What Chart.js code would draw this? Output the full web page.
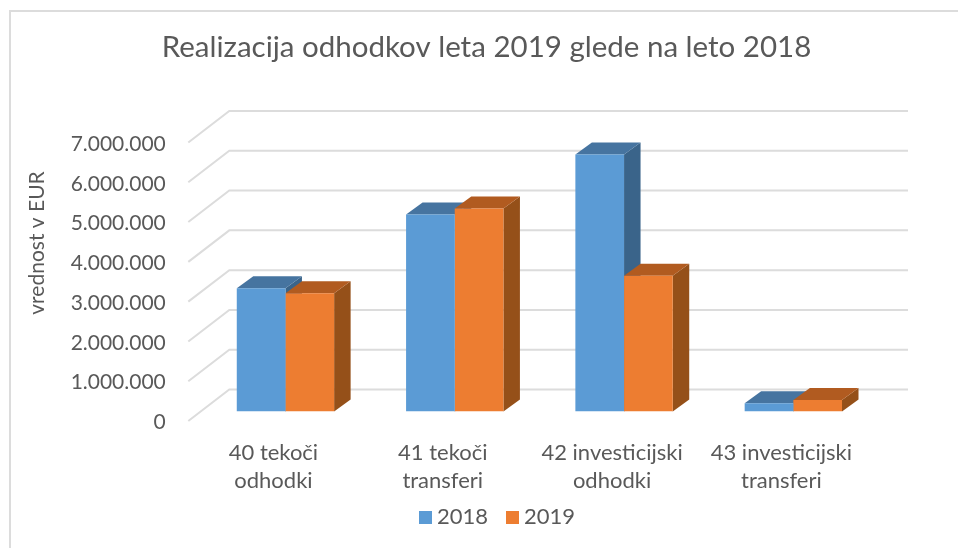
<!DOCTYPE html>
<html>
  <head>
    <meta charset="utf-8">
    <script src="https://cdn.jsdelivr.net/npm/chart.js@4"></script>
    <style>
      body { margin: 0; background: #fff; }
      #frame { position: absolute; left: 9px; top: 10px; width: 949px; height: 538px; border-left: 2px solid #dcdcdc; border-top: 2px solid #dcdcdc; box-sizing: border-box; }
      canvas { position: absolute; left: 0; top: 0; }
    </style>
  </head>
  <body>
    <div id="frame"></div>
    <canvas id="myChart" width="958" height="548"></canvas>

    <script>
      var categories = [['40 tekoči', 'odhodki'], ['41 tekoči', 'transferi'], ['42 investicijski', 'odhodki'], ['43 investicijski', 'transferi']]
      var values2018 = [3095000, 4950000, 6460000, 205000]
      var values2019 = [2970000, 5100000, 3410000, 290000]
      var yTickLabels = ['0', '1.000.000', '2.000.000', '3.000.000', '4.000.000', '5.000.000', '6.000.000', '7.000.000']
      var chartTitle = 'Realizacija odhodkov leta 2019 glede na leto 2018'
      var yAxisTitle = 'vrednost v EUR'

      var textColor = '#595959'
      var fontFamily = 'Lato'
      var gridColor = '#dcdcdc'
      var depthX = 16.5, depthY = 12   // bar depth in the fake 3D
      var wallBack = 22, wallFront = 9.5  // how far the walls sit above/below the bar plane
      var wallLeft = 12.5, wallRight = 30

      var shades = [
        { top: '#4674a0', side: '#3a648a' },
        { top: '#b15b20', side: '#955019' }
      ]

      function swatch(color) {
        var c = document.createElement('canvas')
        c.width = 13
        c.height = 13
        var g = c.getContext('2d')
        g.fillStyle = color
        g.fillRect(0, 0, 13, 13)
        return c
      }

      var walls3d = {
        id: 'walls3d',
        afterLayout: function (chart) {
          // title and legend are not centred on the canvas in the reference
          chart.titleBlock.left += 17.5
          chart.titleBlock.right += 17.5
          chart.legend.left += 31
          chart.legend.right += 31
          chart.legend.top -= 18
        },
        beforeDatasetsDraw: function (chart) {
          var ctx = chart.ctx
          var area = chart.chartArea
          var y = chart.scales.y

          ctx.save()
          ctx.strokeStyle = gridColor
          ctx.lineWidth = 2
          y.ticks.forEach(function (t, i) {
            var py = y.getPixelForTick(i)
            ctx.beginPath()
            ctx.moveTo(area.left - wallLeft, py + wallFront)
            ctx.lineTo(area.left - wallLeft + 41, py - wallBack)
            ctx.lineTo(area.right + wallRight, py - wallBack)
            ctx.stroke()
          })

          // side and top faces, library draws the front rectangles afterwards
          chart.data.datasets.forEach(function (ds, d) {
            chart.getDatasetMeta(d).data.forEach(function (bar) {
              var p = bar.getProps(['x', 'y', 'base', 'width'], true)
              var l = p.x - p.width / 2, r = p.x + p.width / 2
              ctx.fillStyle = shades[d].side
              ctx.beginPath()
              ctx.moveTo(r, p.y)
              ctx.lineTo(r + depthX, p.y - depthY)
              ctx.lineTo(r + depthX, p.base - depthY)
              ctx.lineTo(r, p.base)
              ctx.fill()
              ctx.fillStyle = shades[d].top
              ctx.beginPath()
              ctx.moveTo(l, p.y)
              ctx.lineTo(l + depthX, p.y - depthY)
              ctx.lineTo(r + depthX, p.y - depthY)
              ctx.lineTo(r, p.y)
              ctx.fill()
            })
          })
          ctx.restore()
        },
        afterDraw: function (chart) {
          var ctx = chart.ctx
          ctx.save()
          ctx.translate(37, 243)
          ctx.rotate(-Math.PI / 2)
          ctx.font = '21px ' + fontFamily
          ctx.fillStyle = textColor
          ctx.textAlign = 'center'
          ctx.textBaseline = 'middle'
          ctx.fillText(yAxisTitle, 0, 0)
          ctx.restore()
        }
      }

      var ctx = document.getElementById('myChart').getContext('2d')
      var chart = new Chart(ctx, {
        type: 'bar',
        plugins: [walls3d],
        data: {
          labels: categories,
          datasets: [
            { label: '2018', data: values2018, backgroundColor: '#5b9bd5', categoryPercentage: 0.575, barPercentage: 1 },
            { label: '2019', data: values2019, backgroundColor: '#ed7d31', categoryPercentage: 0.575, barPercentage: 1 }
          ]
        },
        options: {
          responsive: false,
          animation: false,
          layout: { padding: { left: 60, right: 80, top: 0, bottom: -8 } },
          plugins: {
            title: {
              display: true,
              text: chartTitle,
              color: textColor,
              font: { family: fontFamily, size: 29.5, weight: 'normal', lineHeight: 1.2 },
              padding: { top: 30, bottom: 67.6 }
            },
            legend: {
              position: 'bottom',
              labels: {
                color: textColor,
                font: { family: fontFamily, size: 22 },
                padding: 24,
                boxHeight: 13,
                usePointStyle: true,
                pointStyleWidth: 1,
                generateLabels: function (chart) {
                  return Chart.defaults.plugins.legend.labels.generateLabels(chart).map(function (item) {
                    item.pointStyle = swatch(item.fillStyle)
                    return item
                  })
                }
              }
            },
            tooltip: { enabled: false }
          },
          scales: {
            x: {
              grid: { display: false },
              border: { display: false },
              ticks: {
                color: textColor,
                font: { family: fontFamily, size: 22, lineHeight: 1.3 },
                padding: 19,
                labelOffset: -12,
                autoSkip: false,
                maxRotation: 0
              },
              afterFit: function (scale) { scale.height = 88.5 }
            },
            y: {
              min: 0,
              max: 7000000,
              grid: { display: false },
              border: { display: false },
              ticks: {
                stepSize: 1000000,
                color: textColor,
                font: { family: fontFamily, size: 21 },
                padding: 27,
                labelOffset: 11,
                callback: function (v, i) { return yTickLabels[i] }
              },
              afterFit: function (scale) { scale.width = 140.8 }
            }
          }
        }
      })
    </script>
  </body>
</html>
